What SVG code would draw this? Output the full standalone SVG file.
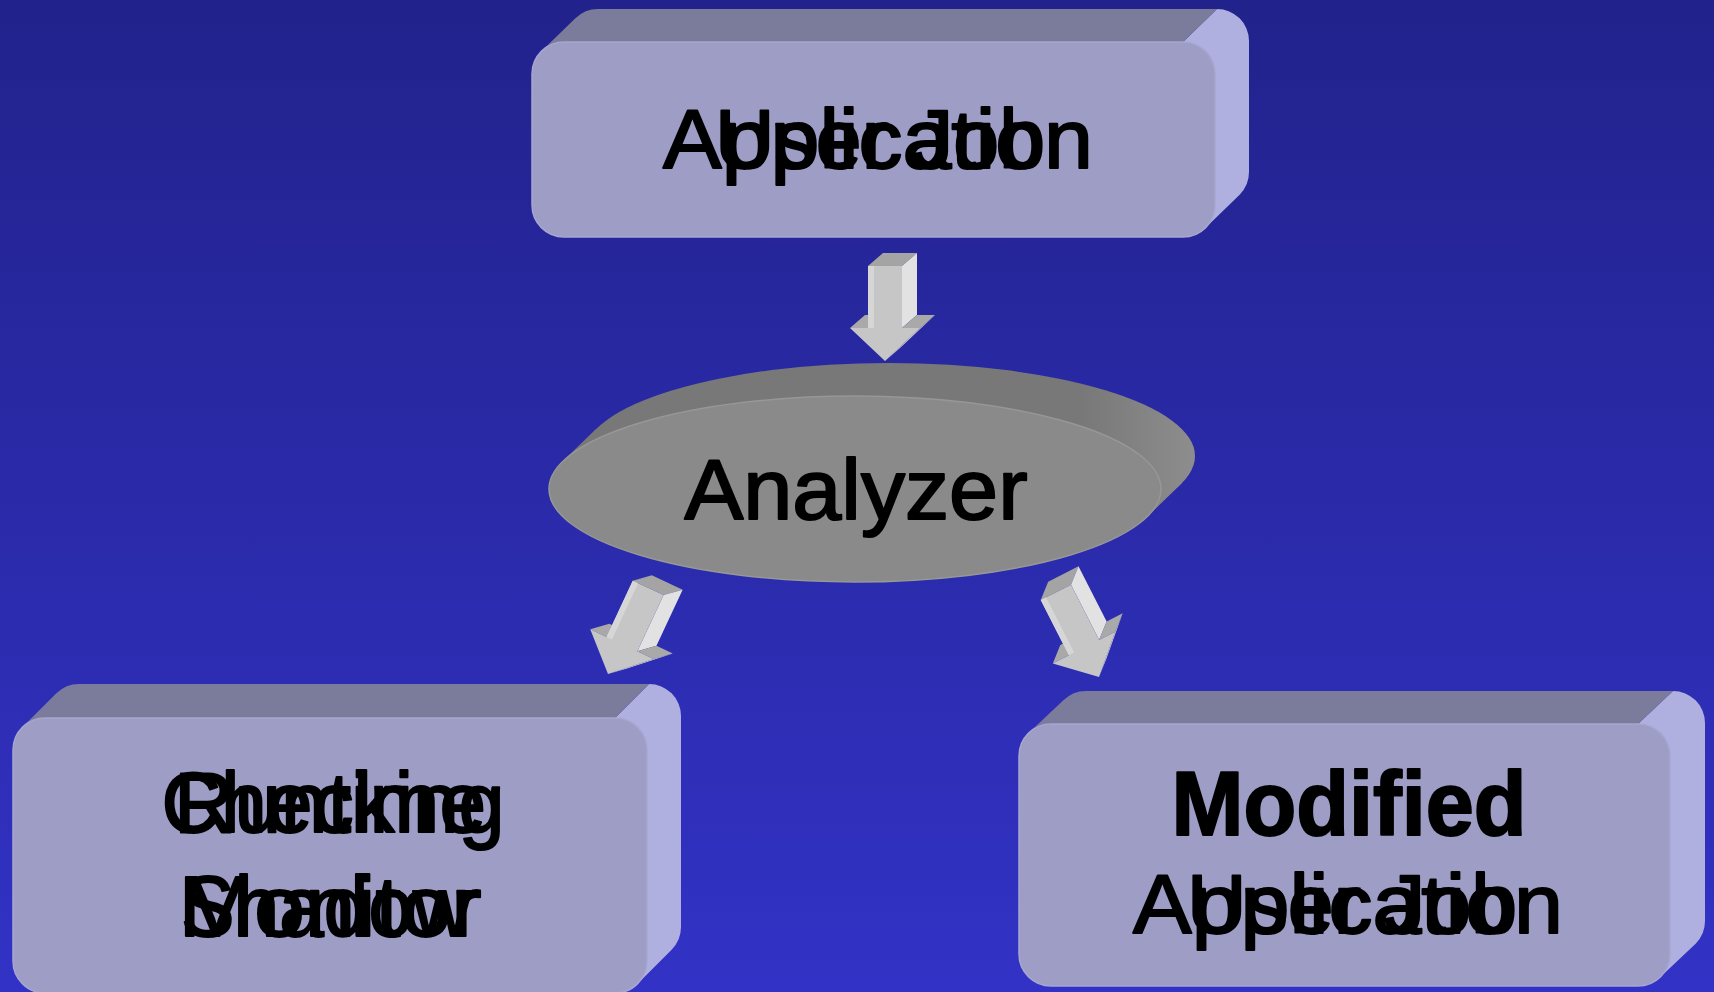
<svg xmlns="http://www.w3.org/2000/svg" xmlns:xlink="http://www.w3.org/1999/xlink" width="1714" height="992" viewBox="0 0 1714 992">
  <defs>
    <linearGradient id="bg" x1="0" y1="0" x2="0" y2="1">
      <stop offset="0" stop-color="#22228c"/>
      <stop offset="1" stop-color="#3232c6"/>
    </linearGradient>
    <linearGradient id="discSide" gradientUnits="userSpaceOnUse" x1="1080" y1="0" x2="1200" y2="0">
      <stop offset="0" stop-color="#787878"/>
      <stop offset="1" stop-color="#8e8e8e"/>
    </linearGradient>
    <!-- extruded block arrow, tip at origin, pointing down -->
    <g id="arrow3d">
      <polygon class="ledge" points="-35,-33 -17,-33 -2,-46 -20,-46"/>
      <polygon class="atop" points="-17,-95 17,-95 32,-108 -2,-108"/>
      <polygon class="aside" points="17,-95 17,-33 32,-46 32,-108"/>
      <polygon class="ledge" points="17,-33 35,-33 50,-46 32,-46"/>
      <polygon class="aslant" points="35,-33 0,0 15,-13 50,-46"/>
      <polygon class="afront" points="-17,-95 17,-95 17,-33 35,-33 0,0 -35,-33 -17,-33"/>
      <polygon class="ahi" points="-17,-95 -11,-95 -11,-33 -17,-33"/>
    </g>
  </defs>
  <style>
    .front { fill: #9d9dc6; stroke: #a6a6d0; stroke-width: 1.5; }
    .top { fill: #7b7b9b; }
    .side { fill: #b0b0e0; }
    .lbl { font-family: "Liberation Sans", Arial, sans-serif; fill: #000; stroke: #000; stroke-width: 2; stroke-linejoin: round; text-anchor: middle; }
    .bold { font-weight: bold; }
    .afront { fill: #c6c6c6; }
    .ahi { fill: #d6d6d6; }
    .atop { fill: #a4a4a4; }
    .aside { fill: #e2e2e2; }
    .ledge { fill: #a9a9a9; }
    .aslant { fill: #d2d2d2; }
  </style>

  <rect x="0" y="0" width="1714" height="992" fill="url(#bg)"/>

  <!-- Top block -->
  <g id="node-application">
    <path class="side" d="M1183,42 L1217,9 A32,32 0 0 1 1249,41 L1249,172 A32,32 0 0 1 1239.63,194.63 L1205.63,227.63 Z"/>
    <path class="top" d="M541.37,51.37 A32,32 0 0 1 564,42 L1183,42 L1217,9 L598,9 A32,32 0 0 0 575.37,18.37 Z"/>
    <rect class="front" x="532" y="42" width="683" height="195" rx="32"/>
    <text class="lbl" x="878" y="168" font-size="84" textLength="430" lengthAdjust="spacingAndGlyphs">Application</text>
    <text class="lbl" x="880" y="168" font-size="84" textLength="330" lengthAdjust="spacingAndGlyphs">User Job</text>
  </g>

  <!-- Analyzer disc -->
  <g id="node-analyzer">
    <ellipse cx="889" cy="456" rx="306" ry="93" fill="url(#discSide)"/>
    <polygon points="562,462 596,429 1182,483 1148,516" fill="url(#discSide)"/>
    <ellipse cx="855" cy="489" rx="306" ry="93" fill="#8a8a8a" stroke="#979797" stroke-width="1.5"/>
    <text class="lbl" x="856" y="519" font-size="86" textLength="343" lengthAdjust="spacingAndGlyphs">Analyzer</text>
  </g>

  <!-- Bottom-left block -->
  <g id="node-monitor">
    <path class="side" d="M615,718 L649,684 A32,32 0 0 1 681,716 L681,927 A32,32 0 0 1 671.63,949.63 L637.63,983.63 Z"/>
    <path class="top" d="M22.37,727.37 A32,32 0 0 1 45,718 L615,718 L649,684 L79,684 A32,32 0 0 0 56.37,693.37 Z"/>
    <rect class="front" x="13" y="718" width="634" height="275" rx="32"/>
    <text class="lbl" x="333" y="832" font-size="86" textLength="343" lengthAdjust="spacingAndGlyphs">Checking</text>
    <text class="lbl" x="330" y="832" font-size="86" textLength="312" lengthAdjust="spacingAndGlyphs">Runtime</text>
    <text class="lbl" x="330" y="936" font-size="86" textLength="303" lengthAdjust="spacingAndGlyphs">Monitor</text>
    <text class="lbl" x="326" y="936" font-size="86" textLength="290" lengthAdjust="spacingAndGlyphs">Shadow</text>
  </g>

  <!-- Bottom-right block -->
  <g id="node-modified">
    <path class="side" d="M1638,724 L1673,691 A32,32 0 0 1 1705,723 L1705,921 A32,32 0 0 1 1695.63,943.63 L1660.63,976.63 Z"/>
    <path class="top" d="M1028.37,733.37 A32,32 0 0 1 1051,724 L1638,724 L1673,691 L1086,691 A32,32 0 0 0 1063.37,700.37 Z"/>
    <rect class="front" x="1019" y="724" width="651" height="262" rx="32"/>
    <text class="lbl bold" x="1349" y="835" font-size="90" textLength="355" lengthAdjust="spacingAndGlyphs">Modified</text>
    <text class="lbl" x="1348" y="933" font-size="84" textLength="430" lengthAdjust="spacingAndGlyphs">Application</text>
    <text class="lbl" x="1352" y="933" font-size="84" textLength="330" lengthAdjust="spacingAndGlyphs">User Job</text>
  </g>

  <!-- Connectors -->
  <g id="connectors">
    <use xlink:href="#arrow3d" href="#arrow3d" transform="translate(885,361)"/>
    <use xlink:href="#arrow3d" href="#arrow3d" transform="translate(608,674) rotate(25)"/>
    <use xlink:href="#arrow3d" href="#arrow3d" transform="translate(1099,677) rotate(-27)"/>
  </g>
</svg>
